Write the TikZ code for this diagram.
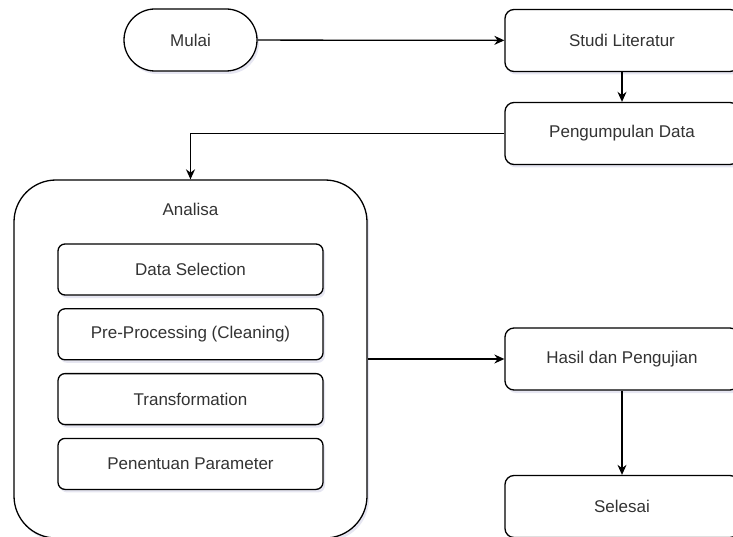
\documentclass[tikz,border=0pt]{standalone}
\usepackage{fontspec}
\setmainfont{Liberation Sans}
\usetikzlibrary{arrows.meta, positioning, shadows}
\definecolor{textgray}{HTML}{333333}
\tikzset{
	every node/.style={
		align=center,
		text=textgray,
		font=\fontsize{17}{20}\selectfont,
	},
	soft-shadow/.style={
		drop shadow={shadow xshift=2pt, shadow yshift=-3pt, opacity=0.15, fill=blue!30!gray}
	},
	step-node/.style={
		rectangle,
		rounded corners=9pt,
		draw=black, line width=1.3pt,
		fill=white,
		minimum width=234pt,
		minimum height=62pt,
		soft-shadow,
		anchor=center
	},
	start-node/.style={
		step-node,
		rounded corners=31pt,
		minimum width=133pt,
		minimum height=62pt
	},
	group-node/.style={
		step-node,
		rounded corners=42pt,
		minimum width=353pt,
		minimum height=358pt
	},
	sub-node/.style={
		step-node,
		soft-shadow/.style={},
		rounded corners=7pt,
		minimum width=265pt,
		minimum height=51pt,
		node distance=12.5pt
	},
	edge-style/.style={line width=1.3pt, draw=black, -{Stealth[length=10pt,width=9pt]}},
}

\begin{document}
\begin{tikzpicture}[x=1pt, y=-1pt]
	\clip (0,0) rectangle (733,537);
	\node (mulai) [start-node] at (190.5,40) {Mulai};
	\node (studi) [step-node] at (622,40.5) {Studi Literatur};
	\node (kumpul) [step-node] at (622,133.5) {Pengumpulan Data};
	\node (analisa) [group-node, label={[anchor=center, yshift=-30pt]north:Analisa}] at (190.5,359) {};
	\node (select) [sub-node] at (190.5,269.5) {Data Selection};
	\node (prepro) [sub-node, below=of select] {Pre-Processing (Cleaning)};
	\node (transf) [sub-node, below=of prepro] {Transformation};
	\node (param) [sub-node, below=of transf] {Penentuan Parameter};
	\node (hasil) [step-node] at (622,359) {Hasil dan Pengujian};
	\node (selesai) [step-node] at (622,506.5) {Selesai};
	% alur
	\draw [edge-style] (mulai) -- (studi);
	\draw [edge-style] (studi) -- (kumpul);
	\draw [edge-style] (kumpul.west) -| (analisa.north);
	\draw [edge-style] (analisa.east) -- (hasil.west);
	\draw [edge-style] (hasil) -- (selesai);
\end{tikzpicture}
\end{document}
